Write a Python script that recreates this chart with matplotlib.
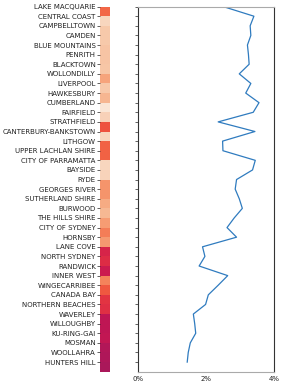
import matplotlib
matplotlib.use("Agg")
import matplotlib.pyplot as plt
import numpy as np
import seaborn as sns
from matplotlib.ticker import FuncFormatter

areas = ["LAKE MACQUARIE", "CENTRAL COAST", "CAMPBELLTOWN", "CAMDEN", "BLUE MOUNTAINS",
         "PENRITH", "BLACKTOWN", "WOLLONDILLY", "LIVERPOOL", "HAWKESBURY", "CUMBERLAND",
         "FAIRFIELD", "STRATHFIELD", "CANTERBURY-BANKSTOWN", "LITHGOW", "UPPER LACHLAN SHIRE",
         "CITY OF PARRAMATTA", "BAYSIDE", "RYDE", "GEORGES RIVER", "SUTHERLAND SHIRE",
         "BURWOOD", "THE HILLS SHIRE", "CITY OF SYDNEY", "HORNSBY", "LANE COVE",
         "NORTH SYDNEY", "RANDWICK", "INNER WEST", "WINGECARRIBEE", "CANADA BAY",
         "NORTHERN BEACHES", "WAVERLEY", "WILLOUGHBY", "KU-RING-GAI", "MOSMAN",
         "WOOLLAHRA", "HUNTERS HILL"]

rate_pct = [2.50, 3.40, 3.29, 3.31, 3.21, 3.24, 3.26, 2.97, 3.31, 3.16, 3.55,
            3.38, 2.35, 3.43, 2.48, 2.49, 3.44, 3.36, 2.89, 2.85, 2.97, 3.06,
            2.82, 2.61, 2.89, 1.89, 1.96, 1.79, 2.63, 2.35, 2.06, 1.98, 1.62,
            1.66, 1.69, 1.53, 1.47, 1.44]

heat_values = [0.68, 0.945, 0.91, 0.91, 0.895, 0.895, 0.90, 0.82, 0.91, 0.86,
               0.985, 0.93, 0.64, 0.945, 0.67, 0.67, 0.945, 0.935, 0.78, 0.78,
               0.835, 0.865, 0.80, 0.73, 0.79, 0.535, 0.555, 0.50, 0.74, 0.65,
               0.575, 0.565, 0.47, 0.47, 0.48, 0.44, 0.43, 0.42]

xticks_pct = [0, 2, 4]

fig = plt.figure(figsize=(2.85, 3.88), dpi=100)
n = len(areas)

axh = fig.add_axes([0.351, 0.042, 0.035, 0.941])
cmap = sns.color_palette("rocket", as_cmap=True)
axh.pcolormesh(np.array([0, 1]), np.arange(n + 1), np.array(heat_values).reshape(-1, 1),
               cmap=cmap, vmin=0, vmax=1)
axh.set_ylim(n, 0)
axh.set_xlim(0, 1)
axh.set_yticks(np.arange(n))
axh.set_yticklabels(areas, fontsize=5, color="#222222")
axh.set_xticks([])
axh.tick_params(axis="y", length=2, width=0.5, pad=1, colors="#222222")
for s in axh.spines.values():
    s.set_visible(False)

axl = fig.add_axes([0.485, 0.042, 0.4775, 0.941])
axl.plot(rate_pct, np.arange(n), color="#2f7bbf", linewidth=0.9)
axl.set_ylim(n, 0)
axl.set_xlim(0, 4)
axl.set_yticks(np.arange(n))
axl.set_yticklabels([])
axl.tick_params(axis="y", length=2, width=0.5, colors="#222222")
axl.set_xticks(xticks_pct)
axl.xaxis.set_major_formatter(FuncFormatter(lambda v, p: f"{v:.0f}%"))
axl.tick_params(axis="x", length=0, labelsize=5, pad=3, colors="#222222")
axl.spines["left"].set_color("#333333")
axl.spines["right"].set_color("#333333")
axl.spines["top"].set_color("#aaaaaa")
axl.spines["bottom"].set_color("#aaaaaa")
for s in axl.spines.values():
    s.set_linewidth(0.8)

fig.savefig("out.png", dpi=100)
